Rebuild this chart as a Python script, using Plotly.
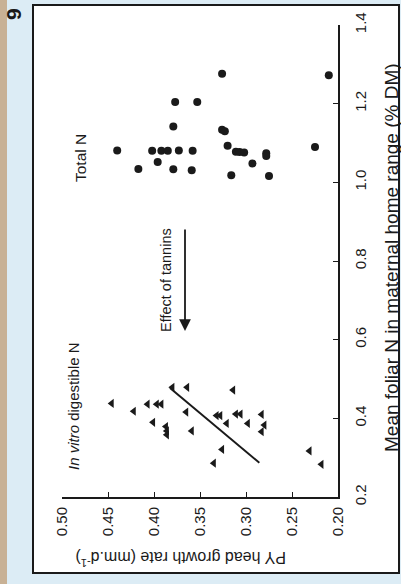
import plotly.graph_objects as go

# ---- data ----
# Total N: foliar N (% DM) and PY head growth rate (mm/d)
total_n = [1.276, 1.272, 1.204, 1.204, 1.142, 1.134, 1.130, 1.081, 1.080, 1.080, 1.080,
           1.081, 1.080, 1.093, 1.078, 1.077, 1.076, 1.074, 1.067, 1.090, 1.034, 1.052,
           1.033, 1.031, 1.048, 1.018, 1.016]
total_g = [0.326, 0.210, 0.377, 0.353, 0.379, 0.326, 0.323, 0.440, 0.402, 0.392, 0.385,
           0.373, 0.358, 0.320, 0.311, 0.307, 0.302, 0.278, 0.278, 0.225, 0.417, 0.396,
           0.379, 0.359, 0.293, 0.316, 0.275]

# In vitro digestible N
dig_n = [0.479, 0.479, 0.438, 0.418, 0.436, 0.436, 0.436, 0.416, 0.390, 0.379, 0.368,
         0.358, 0.368, 0.472, 0.407, 0.407, 0.411, 0.411, 0.410, 0.387, 0.387, 0.383,
         0.366, 0.321, 0.286, 0.317, 0.283]
dig_g = [0.380, 0.364, 0.446, 0.422, 0.407, 0.397, 0.392, 0.365, 0.401, 0.387, 0.386,
         0.386, 0.359, 0.314, 0.332, 0.328, 0.311, 0.306, 0.283, 0.321, 0.298, 0.280,
         0.283, 0.326, 0.335, 0.231, 0.218]

# regression line for digestible N
fit_n = [0.287, 0.477]
fit_g = [0.2855, 0.3826]

growth_ticks = [0.20, 0.25, 0.30, 0.35, 0.40, 0.45, 0.50]
growth_labels = ["0.20", "0.25", "0.30", "0.35", "0.40", "0.45", "0.50"]
n_ticks = [0.2, 0.4, 0.6, 0.8, 1.0, 1.2, 1.4]
n_labels = ["0.2", "0.4", "0.6", "0.8", "1.0", "1.2", "1.4"]

# ---- layout geometry (figure is shown rotated 90 deg CCW) ----
W, H = 401, 584
L, R, T, B = 62, 63, 25, 87
PW, PH = W - L - R, H - T - B
FONT = "Liberation Sans, Arial, sans-serif"
INK = "#1a1a1a"


def px(x):
    return (x - L) / PW


def py(y):
    return (H - B - y) / PH


def label(text, x, y, size, angle=-90):
    return dict(text=text, xref="paper", yref="paper", x=px(x), y=py(y),
                xanchor="center", yanchor="middle", showarrow=False,
                textangle=angle, font=dict(family=FONT, size=size, color=INK))


fig = go.Figure()

fig.add_trace(go.Scatter(x=fit_g, y=fit_n, mode="lines",
                         line=dict(color=INK, width=2), showlegend=False,
                         hoverinfo="skip"))
fig.add_trace(go.Scatter(x=total_g, y=total_n, mode="markers", name="Total N",
                         marker=dict(symbol="circle", size=8, color=INK),
                         showlegend=False))
fig.add_trace(go.Scatter(x=dig_g, y=dig_n, mode="markers", name="In vitro digestible N",
                         marker=dict(symbol="triangle-left", size=8, color=INK),
                         showlegend=False))

fig.update_xaxes(range=[0.50, 0.20], tickvals=growth_ticks, ticktext=growth_labels,
                 tickangle=-90, ticks="inside", ticklen=5, tickwidth=1.3, tickcolor=INK,
                 showline=True, linecolor=INK, linewidth=2, mirror=False,
                 showgrid=False, zeroline=False, ticklabelstandoff=2,
                 tickfont=dict(family=FONT, size=15, color=INK))
fig.update_yaxes(range=[0.2, 1.4], tickvals=n_ticks, ticktext=n_labels, side="right",
                 tickangle=-90, ticks="inside", ticklen=5, tickwidth=1.3, tickcolor=INK,
                 showline=True, linecolor=INK, linewidth=2, mirror=False,
                 showgrid=False, zeroline=False, ticklabelstandoff=8,
                 tickfont=dict(family=FONT, size=15, color=INK))

shapes = [
    # scanned page background strip on the left
    dict(type="rect", xref="paper", yref="paper", x0=px(0), x1=px(7), y0=py(H), y1=py(0),
         fillcolor="#c8b195", line=dict(width=0), layer="below"),
    # white figure box with black frame
    dict(type="rect", xref="paper", yref="paper", x0=px(33), x1=px(399), y0=py(573), y1=py(5),
         fillcolor="white", line=dict(color=INK, width=2), layer="below"),
]

annotations = [
    label("<b>9</b>", 14, 14, 21),
    label("Total N", 80, 158, 15.5),
    label("<i>In vitro</i> digestible N", 73, 406, 15),
    label("Effect of tannins", 166, 280, 14.5),
    dict(text="", xref="paper", yref="paper", axref="pixel", ayref="pixel",
         x=px(185), y=py(331), ax=0, ay=-103, showarrow=True, arrowhead=2, arrowsize=1.3,
         arrowwidth=1.8, arrowcolor=INK),
    label("PY head growth rate (mm.d<sup>-1</sup>)", 181, 559, 16, angle=180),
    label("Mean foliar N in maternal home range (% DM)", 391, 258, 19),
]

fig.update_layout(width=W, height=H, margin=dict(l=L, r=R, t=T, b=B, pad=0),
                  paper_bgcolor="#dcecf5", plot_bgcolor="rgba(0,0,0,0)",
                  shapes=shapes, annotations=annotations, showlegend=False)

fig.write_html("out.html")
